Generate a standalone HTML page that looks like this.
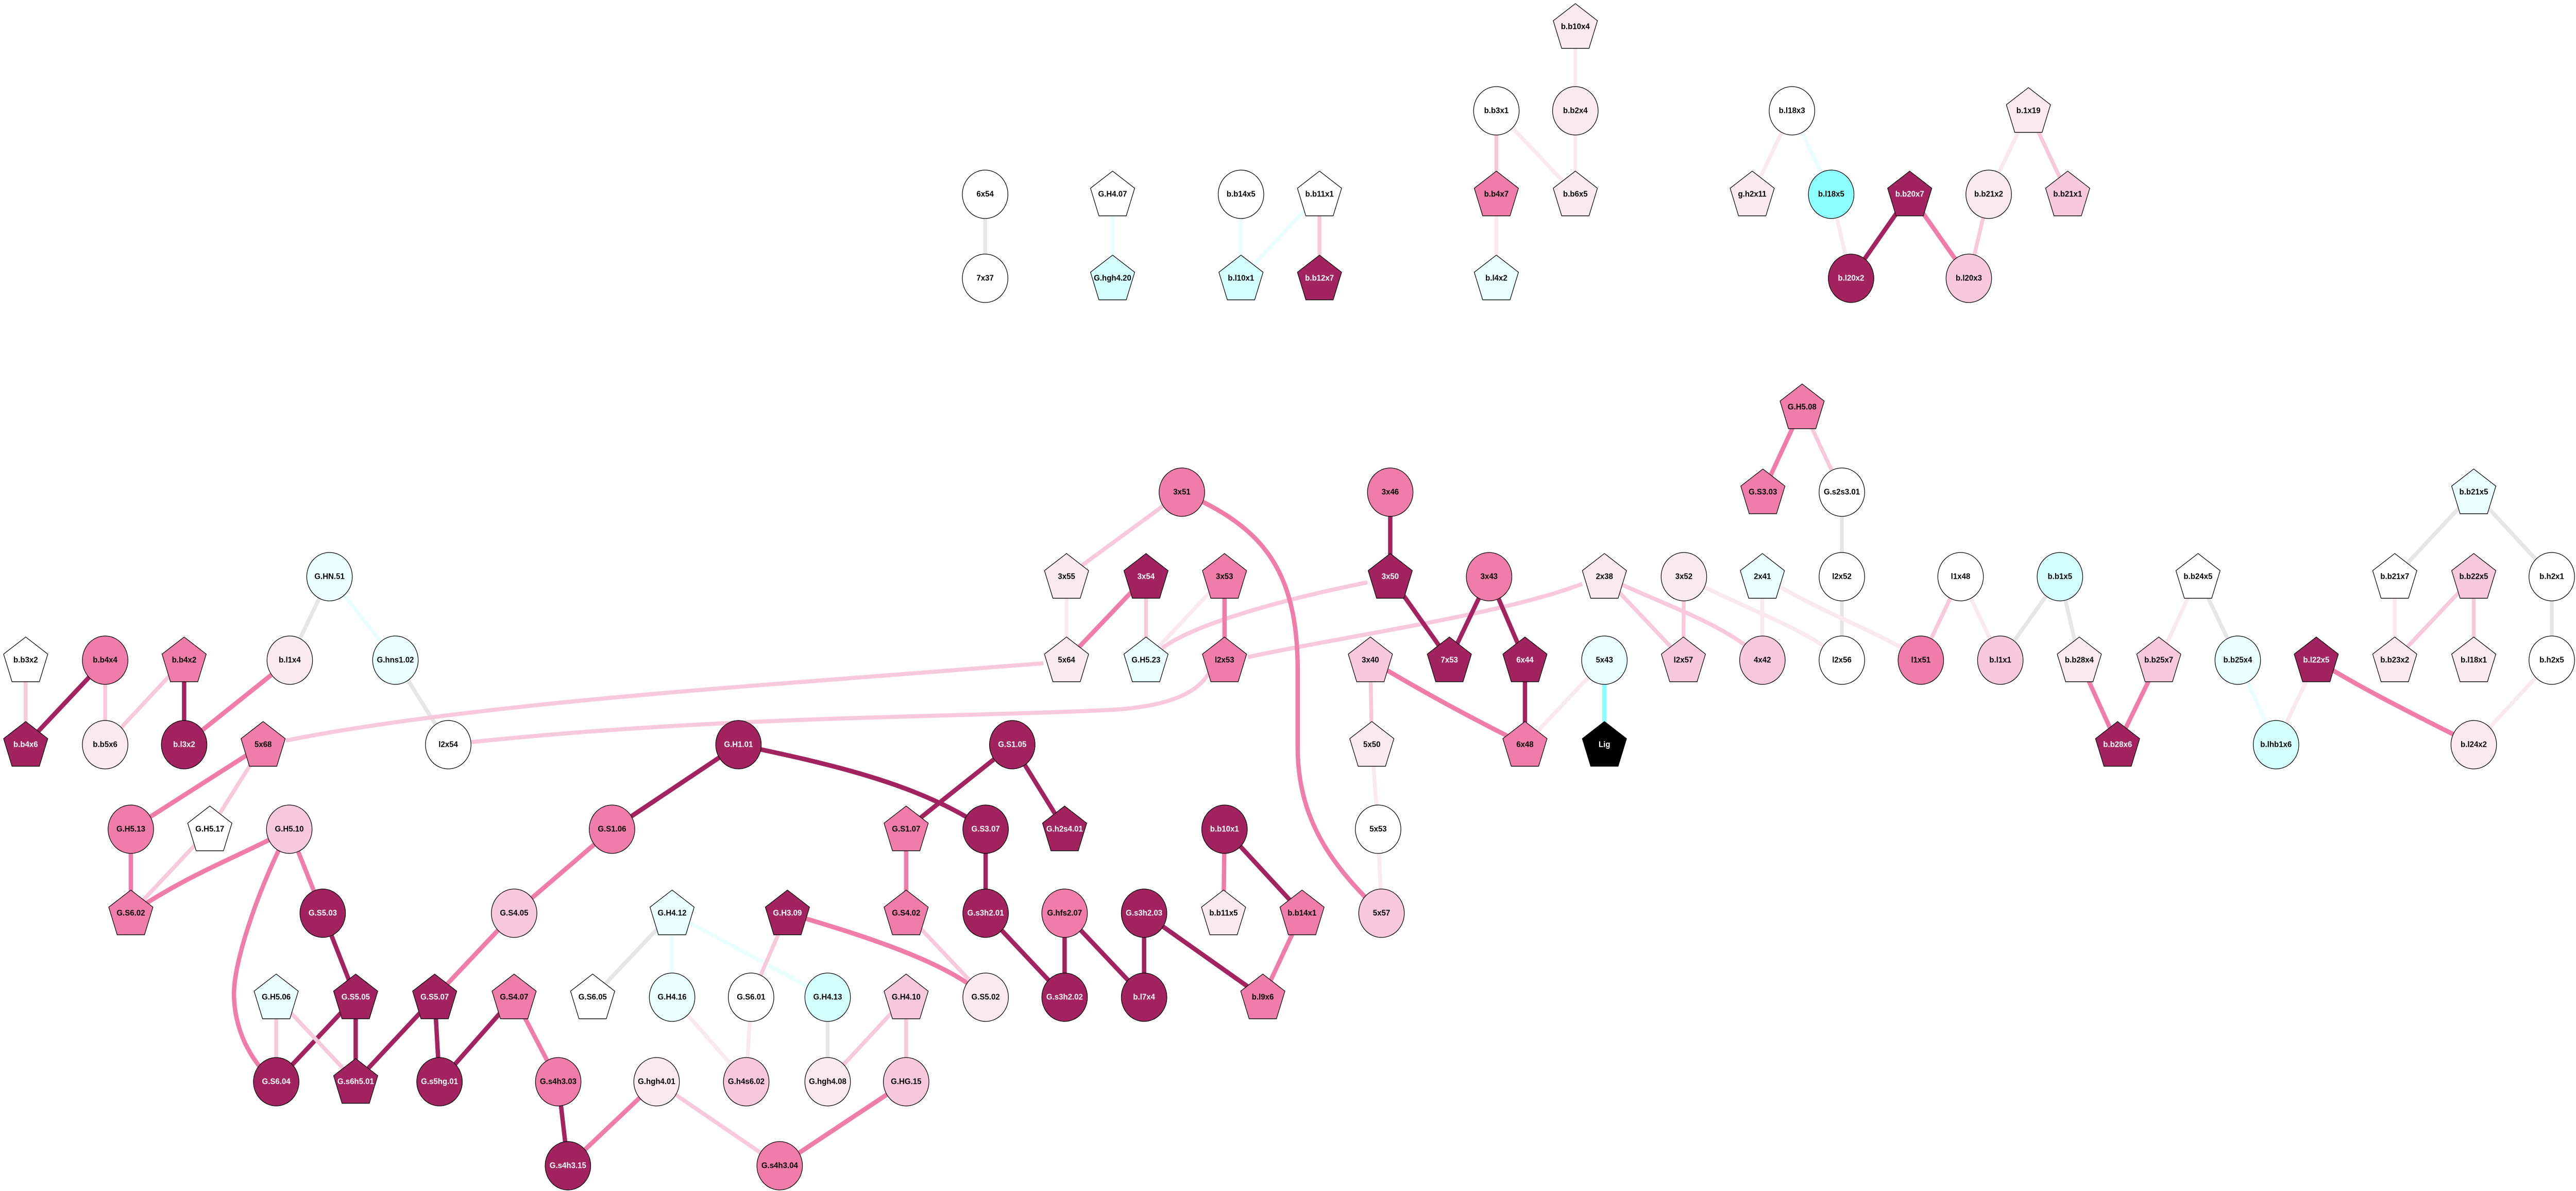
<!DOCTYPE html>
<html><head><meta charset="utf-8"><style>
html,body{margin:0;padding:0;background:#fff;width:100%;height:100%;overflow:hidden}
svg{display:block;position:fixed;left:0;top:0;width:100vw;height:100vh}
.e{fill:none;stroke-linecap:butt}
.gr{stroke:#e6e6e6;stroke-width:8}
.lc{stroke:#eaffff;stroke-width:8}
.cy{stroke:#8cffff;stroke-width:9}
.lp{stroke:#fbe9f0;stroke-width:8}
.p2{stroke:#f8c8dc;stroke-width:8}
.mm{stroke:#f07ca9;stroke-width:9}
.dd{stroke:#a2235f;stroke-width:9}
.n{stroke:#000;stroke-width:1.3}
.fw{fill:#fff}.flc{fill:#eaffff}.fc{fill:#d4ffff}.fcc{fill:#8cffff}.flp{fill:#fbe9f0}.fp2{fill:#f8c8dc}.fm{fill:#f07ca9}.fd{fill:#a2235f}.fk{fill:#000}
text{font-family:"Liberation Sans",Arial,sans-serif;font-weight:bold;font-size:16px;text-anchor:middle;dominant-baseline:central;fill:#000}
text.w{fill:#fff}
</style></head><body>
<svg viewBox="0 0 5316 2311" preserveAspectRatio="none" xmlns="http://www.w3.org/2000/svg">
<defs><polygon id="P" points="0,-48 45.6,-14.8 28.2,38.8 -28.2,38.8 -45.6,-14.8"/></defs>
<g class="e">
<line class="gr" x1="2033" y1="377" x2="2033" y2="540"/>
<line class="lc" x1="2296" y1="377" x2="2296" y2="540"/>
<line class="lc" x1="2561" y1="377" x2="2561" y2="540"/>
<line class="lc" x1="2723" y1="377" x2="2561" y2="540"/>
<line class="p2" x1="2723" y1="377" x2="2723" y2="540"/>
<line class="lp" x1="3251" y1="52" x2="3251" y2="215"/>
<line class="p2" x1="3088" y1="215" x2="3088" y2="377"/>
<line class="lp" x1="3088" y1="215" x2="3251" y2="377"/>
<line class="lp" x1="3251" y1="215" x2="3251" y2="377"/>
<line class="lp" x1="3088" y1="377" x2="3088" y2="540"/>
<line class="lp" x1="3698" y1="215" x2="3616" y2="377"/>
<line class="lc" x1="3698" y1="215" x2="3779" y2="377"/>
<line class="lp" x1="3779" y1="377" x2="3820" y2="540"/>
<line class="dd" x1="3941" y1="377" x2="3820" y2="540"/>
<line class="mm" x1="3941" y1="377" x2="4063" y2="540"/>
<line class="p2" x1="4104" y1="377" x2="4063" y2="540"/>
<line class="lp" x1="4186" y1="215" x2="4104" y2="377"/>
<line class="p2" x1="4186" y1="215" x2="4267" y2="377"/>
<line class="p2" x1="53" y1="1281" x2="53" y2="1445"/>
<line class="dd" x1="217" y1="1281" x2="53" y2="1445"/>
<line class="p2" x1="217" y1="1281" x2="217" y2="1445"/>
<line class="p2" x1="380" y1="1281" x2="217" y2="1445"/>
<line class="dd" x1="380" y1="1281" x2="380" y2="1445"/>
<line class="mm" x1="598" y1="1281" x2="380" y2="1445"/>
<line class="gr" x1="680" y1="1119" x2="598" y2="1281"/>
<line class="lc" x1="680" y1="1119" x2="816" y2="1281"/>
<line class="gr" x1="816" y1="1281" x2="925" y2="1445"/>
<path class="p2" d="M972,1440 C1500,1388 2000,1392 2300,1377 Q2460,1367 2495,1305"/>
<path class="p2" d="M590,1437 C900,1378 1400,1342 1561,1330 L2153,1287"/>
<path class="p2" d="M2822,1130 C2600,1172 2450,1220 2398,1258"/>
<path class="p2" d="M2575,1275 C2800,1230 3100,1192 3265,1133"/>
<line class="mm" x1="543" y1="1445" x2="270" y2="1609"/>
<line class="p2" x1="543" y1="1445" x2="433" y2="1609"/>
<line class="mm" x1="270" y1="1609" x2="270" y2="1772"/>
<line class="p2" x1="433" y1="1609" x2="270" y2="1772"/>
<path class="mm" d="M597,1609 C500,1660 400,1690 270,1772"/>
<path class="mm" d="M575,1650 C520,1760 480,1880 483,1935 C485,2010 530,2075 570,2099"/>
<line class="mm" x1="597" y1="1609" x2="666" y2="1772"/>
<line class="dd" x1="666" y1="1772" x2="734" y2="1935"/>
<line class="dd" x1="734" y1="1935" x2="570" y2="2099"/>
<line class="dd" x1="734" y1="1935" x2="734" y2="2099"/>
<line class="p2" x1="570" y1="1935" x2="570" y2="2099"/>
<line class="p2" x1="570" y1="1935" x2="734" y2="2099"/>
<line class="dd" x1="897" y1="1935" x2="734" y2="2099"/>
<line class="dd" x1="897" y1="1935" x2="907" y2="2099"/>
<line class="mm" x1="1061" y1="1772" x2="897" y2="1935"/>
<line class="mm" x1="1263" y1="1609" x2="1061" y2="1772"/>
<line class="dd" x1="1524" y1="1445" x2="1263" y2="1609"/>
<path class="dd" d="M1524,1445 C1700,1480 1900,1520 2034,1609"/>
<line class="dd" x1="1061" y1="1935" x2="907" y2="2099"/>
<line class="mm" x1="1061" y1="1935" x2="1152" y2="2099"/>
<line class="dd" x1="1152" y1="2099" x2="1172" y2="2262"/>
<line class="mm" x1="1355" y1="2099" x2="1172" y2="2262"/>
<line class="p2" x1="1355" y1="2099" x2="1609" y2="2262"/>
<line class="gr" x1="1387" y1="1772" x2="1223" y2="1935"/>
<line class="lc" x1="1387" y1="1772" x2="1387" y2="1935"/>
<line class="lc" x1="1387" y1="1772" x2="1708" y2="1935"/>
<line class="lp" x1="1387" y1="1935" x2="1540" y2="2099"/>
<line class="lp" x1="1550" y1="1935" x2="1540" y2="2099"/>
<line class="p2" x1="1625" y1="1772" x2="1550" y2="1935"/>
<path class="mm" d="M1625,1772 C1800,1820 1960,1870 2034,1935"/>
<line class="p2" x1="1870" y1="1772" x2="2034" y2="1935"/>
<line class="mm" x1="1870" y1="1609" x2="1870" y2="1772"/>
<line class="dd" x1="2089" y1="1445" x2="1870" y2="1609"/>
<line class="dd" x1="2089" y1="1445" x2="2197" y2="1609"/>
<line class="dd" x1="2034" y1="1609" x2="2034" y2="1772"/>
<line class="dd" x1="2034" y1="1772" x2="2197" y2="1935"/>
<line class="dd" x1="2197" y1="1772" x2="2197" y2="1935"/>
<line class="dd" x1="2197" y1="1772" x2="2361" y2="1935"/>
<line class="dd" x1="2361" y1="1772" x2="2361" y2="1935"/>
<line class="dd" x1="2361" y1="1772" x2="2606" y2="1935"/>
<line class="mm" x1="2527" y1="1609" x2="2525" y2="1772"/>
<line class="dd" x1="2527" y1="1609" x2="2687" y2="1772"/>
<line class="mm" x1="2687" y1="1772" x2="2606" y2="1935"/>
<line class="gr" x1="1708" y1="1935" x2="1708" y2="2099"/>
<line class="p2" x1="1870" y1="1935" x2="1708" y2="2099"/>
<line class="p2" x1="1870" y1="1935" x2="1870" y2="2099"/>
<line class="mm" x1="1870" y1="2099" x2="1609" y2="2262"/>
<line class="p2" x1="2439" y1="955" x2="2201" y2="1119"/>
<path class="mm" d="M2439,955 C2600,1020 2678,1100 2678,1300 L2678,1450 C2678,1600 2760,1690 2851,1772"/>
<line class="lp" x1="2201" y1="1119" x2="2201" y2="1281"/>
<line class="mm" x1="2365" y1="1119" x2="2201" y2="1281"/>
<line class="p2" x1="2365" y1="1119" x2="2365" y2="1281"/>
<line class="lp" x1="2527" y1="1119" x2="2365" y2="1281"/>
<line class="mm" x1="2527" y1="1119" x2="2527" y2="1281"/>
<line class="dd" x1="2869" y1="955" x2="2869" y2="1119"/>
<line class="dd" x1="2869" y1="1119" x2="2991" y2="1281"/>
<line class="dd" x1="3073" y1="1119" x2="2991" y2="1281"/>
<line class="dd" x1="3073" y1="1119" x2="3147" y2="1281"/>
<line class="dd" x1="3147" y1="1281" x2="3147" y2="1445"/>
<line class="p2" x1="2828" y1="1281" x2="2831" y2="1445"/>
<path class="mm" d="M2828,1281 C2930,1340 3050,1400 3147,1445"/>
<line class="lp" x1="2831" y1="1445" x2="2844" y2="1609"/>
<line class="lp" x1="2844" y1="1609" x2="2851" y2="1772"/>
<line class="lp" x1="3311" y1="1281" x2="3147" y2="1445"/>
<line class="cy" x1="3311" y1="1281" x2="3311" y2="1445"/>
<line class="mm" x1="3719" y1="790" x2="3638" y2="955"/>
<line class="p2" x1="3719" y1="790" x2="3801" y2="955"/>
<line class="gr" x1="3801" y1="955" x2="3801" y2="1119"/>
<line class="gr" x1="3801" y1="1119" x2="3801" y2="1281"/>
<line class="p2" x1="3311" y1="1119" x2="3474" y2="1281"/>
<path class="p2" d="M3311,1119 C3450,1180 3570,1215 3637,1281"/>
<line class="p2" x1="3475" y1="1119" x2="3474" y2="1281"/>
<path class="lp" d="M3475,1119 C3620,1190 3730,1220 3801,1281"/>
<line class="lp" x1="3637" y1="1119" x2="3637" y2="1281"/>
<path class="lp" d="M3637,1119 C3780,1200 3880,1225 3964,1281"/>
<line class="p2" x1="4046" y1="1119" x2="3964" y2="1281"/>
<line class="lp" x1="4046" y1="1119" x2="4128" y2="1281"/>
<line class="gr" x1="4251" y1="1119" x2="4128" y2="1281"/>
<line class="gr" x1="4251" y1="1119" x2="4291" y2="1281"/>
<line class="mm" x1="4291" y1="1281" x2="4370" y2="1445"/>
<line class="mm" x1="4455" y1="1281" x2="4370" y2="1445"/>
<line class="lp" x1="4536" y1="1119" x2="4455" y2="1281"/>
<line class="gr" x1="4536" y1="1119" x2="4618" y2="1281"/>
<line class="lc" x1="4618" y1="1281" x2="4697" y2="1445"/>
<line class="lp" x1="4780" y1="1281" x2="4697" y2="1445"/>
<path class="mm" d="M4780,1281 C4880,1340 4990,1390 5105,1445"/>
<line class="lp" x1="5266" y1="1281" x2="5105" y2="1445"/>
<line class="gr" x1="5266" y1="1119" x2="5266" y2="1281"/>
<line class="gr" x1="5105" y1="955" x2="4942" y2="1119"/>
<line class="gr" x1="5105" y1="955" x2="5266" y2="1119"/>
<line class="lp" x1="4942" y1="1119" x2="4942" y2="1281"/>
<line class="p2" x1="5105" y1="1119" x2="4942" y2="1281"/>
<line class="p2" x1="5105" y1="1119" x2="5105" y2="1281"/>
</g>
<g class="n">
<circle class="fw" cx="2033" cy="377" r="47"/><circle class="fw" cx="2033" cy="540" r="47"/>
<use href="#P" class="fw" x="2296" y="380"/><use href="#P" class="fc" x="2296" y="543"/>
<circle class="fw" cx="2561" cy="377" r="47"/><use href="#P" class="fc" x="2561" y="543"/>
<use href="#P" class="fw" x="2723" y="380"/><use href="#P" class="fd" x="2723" y="543"/>
<use href="#P" class="flp" x="3251" y="55"/>
<circle class="fw" cx="3088" cy="215" r="47"/><circle class="flp" cx="3251" cy="215" r="47"/>
<use href="#P" class="fm" x="3088" y="380"/><use href="#P" class="flp" x="3251" y="380"/><use href="#P" class="flc" x="3088" y="543"/>
<circle class="fw" cx="3698" cy="215" r="47"/><use href="#P" class="flp" x="3616" y="380"/>
<circle class="fcc" cx="3779" cy="377" r="47"/><use href="#P" class="fd" x="3941" y="380"/>
<circle class="flp" cx="4104" cy="377" r="47"/><use href="#P" class="fp2" x="4267" y="380"/>
<use href="#P" class="flp" x="4186" y="218"/>
<circle class="fd" cx="3820" cy="540" r="47"/><circle class="fp2" cx="4063" cy="540" r="47"/>
<use href="#P" class="fw" x="53" y="1284"/><circle class="fm" cx="217" cy="1281" r="47"/><use href="#P" class="fm" x="380" y="1284"/>
<circle class="flp" cx="598" cy="1281" r="47"/><circle class="flc" cx="680" cy="1119" r="47"/><circle class="flc" cx="816" cy="1281" r="47"/>
<use href="#P" class="fd" x="53" y="1448"/><circle class="flp" cx="217" cy="1445" r="47"/><circle class="fd" cx="380" cy="1445" r="47"/>
<use href="#P" class="fm" x="543" y="1448"/><circle class="fw" cx="925" cy="1445" r="47"/><circle class="fd" cx="1524" cy="1445" r="47"/>
<circle class="fm" cx="270" cy="1609" r="47"/><use href="#P" class="fw" x="433" y="1612"/><circle class="fp2" cx="597" cy="1609" r="47"/>
<circle class="fm" cx="1263" cy="1609" r="47"/>
<use href="#P" class="fm" x="270" y="1775"/><circle class="fd" cx="666" cy="1772" r="47"/><circle class="fp2" cx="1061" cy="1772" r="47"/>
<use href="#P" class="flc" x="1387" y="1775"/>
<use href="#P" class="flc" x="570" y="1938"/><use href="#P" class="fd" x="734" y="1938"/><use href="#P" class="fd" x="897" y="1938"/>
<use href="#P" class="fm" x="1061" y="1938"/><use href="#P" class="fw" x="1223" y="1938"/><circle class="flc" cx="1387" cy="1935" r="47"/>
<circle class="fw" cx="1550" cy="1935" r="47"/>
<circle class="fd" cx="570" cy="2099" r="47"/><use href="#P" class="fd" x="734" y="2102"/><circle class="fd" cx="907" cy="2099" r="47"/>
<circle class="fm" cx="1152" cy="2099" r="47"/><circle class="flp" cx="1355" cy="2099" r="47"/><circle class="fp2" cx="1540" cy="2099" r="47"/>
<circle class="fd" cx="1172" cy="2262" r="47"/>
<circle class="fm" cx="2439" cy="955" r="47"/><circle class="fm" cx="2869" cy="955" r="47"/>
<use href="#P" class="flp" x="2201" y="1122"/><use href="#P" class="fd" x="2365" y="1122"/><use href="#P" class="fm" x="2527" y="1122"/>
<use href="#P" class="fd" x="2869" y="1122"/><circle class="fm" cx="3073" cy="1119" r="47"/>
<use href="#P" class="flp" x="2201" y="1284"/><use href="#P" class="flc" x="2365" y="1284"/><use href="#P" class="fm" x="2527" y="1284"/>
<use href="#P" class="fp2" x="2828" y="1284"/><use href="#P" class="fd" x="2991" y="1284"/><use href="#P" class="fd" x="3147" y="1284"/>
<circle class="fd" cx="2089" cy="1445" r="47"/><use href="#P" class="flp" x="2831" y="1448"/><use href="#P" class="fm" x="3147" y="1448"/>
<use href="#P" class="fm" x="1870" y="1612"/><circle class="fd" cx="2034" cy="1609" r="47"/><use href="#P" class="fd" x="2197" y="1612"/>
<circle class="fd" cx="2527" cy="1609" r="47"/><circle class="fw" cx="2844" cy="1609" r="47"/>
<use href="#P" class="fd" x="1625" y="1775"/><use href="#P" class="fm" x="1870" y="1775"/><circle class="fd" cx="2034" cy="1772" r="47"/>
<circle class="fm" cx="2197" cy="1772" r="47"/><circle class="fd" cx="2361" cy="1772" r="47"/><use href="#P" class="flp" x="2525" y="1775"/>
<use href="#P" class="fm" x="2687" y="1775"/><circle class="fp2" cx="2851" cy="1772" r="47"/>
<circle class="fc" cx="1708" cy="1935" r="47"/><use href="#P" class="fp2" x="1870" y="1938"/><circle class="flp" cx="2034" cy="1935" r="47"/>
<circle class="fd" cx="2197" cy="1935" r="47"/><circle class="fd" cx="2361" cy="1935" r="47"/><use href="#P" class="fm" x="2606" y="1938"/>
<circle class="flp" cx="1708" cy="2099" r="47"/><circle class="fp2" cx="1870" cy="2099" r="47"/><circle class="fm" cx="1609" cy="2262" r="47"/>
<use href="#P" class="fm" x="3719" y="793"/><use href="#P" class="fm" x="3638" y="958"/><circle class="fw" cx="3801" cy="955" r="47"/>
<use href="#P" class="flp" x="3311" y="1122"/><circle class="flp" cx="3475" cy="1119" r="47"/><use href="#P" class="flc" x="3637" y="1122"/>
<circle class="fw" cx="3801" cy="1119" r="47"/><circle class="fw" cx="4046" cy="1119" r="47"/><circle class="fc" cx="4251" cy="1119" r="47"/>
<use href="#P" class="fw" x="4536" y="1122"/>
<circle class="flc" cx="3311" cy="1281" r="47"/><use href="#P" class="fp2" x="3474" y="1284"/><circle class="fp2" cx="3637" cy="1281" r="47"/>
<circle class="fw" cx="3801" cy="1281" r="47"/><circle class="fm" cx="3964" cy="1281" r="47"/><circle class="fp2" cx="4128" cy="1281" r="47"/>
<use href="#P" class="flp" x="4291" y="1284"/><use href="#P" class="fp2" x="4455" y="1284"/><circle class="flc" cx="4618" cy="1281" r="47"/>
<use href="#P" class="fk" x="3311" y="1448"/><use href="#P" class="fd" x="4370" y="1448"/><circle class="fc" cx="4697" cy="1445" r="47"/>
<use href="#P" class="fd" x="4780" y="1284"/>
<use href="#P" class="flc" x="5105" y="958"/><use href="#P" class="fw" x="4942" y="1122"/><use href="#P" class="fp2" x="5105" y="1122"/>
<circle class="fw" cx="5266" cy="1119" r="47"/><use href="#P" class="flp" x="4942" y="1284"/><use href="#P" class="flp" x="5105" y="1284"/>
<circle class="fw" cx="5266" cy="1281" r="47"/><circle class="flp" cx="5105" cy="1445" r="47"/>
</g>
<g>
<text x="2033" y="377">6x54</text><text x="2033" y="540">7x37</text>
<text x="2296" y="377">G.H4.07</text><text x="2296" y="540">G.hgh4.20</text>
<text x="2561" y="377">b.b14x5</text><text x="2561" y="540">b.l10x1</text>
<text x="2723" y="377">b.b11x1</text><text class="w" x="2723" y="540">b.b12x7</text>
<text x="3251" y="52">b.b10x4</text><text x="3088" y="215">b.b3x1</text><text x="3251" y="215">b.b2x4</text>
<text x="3088" y="377">b.b4x7</text><text x="3251" y="377">b.b6x5</text><text x="3088" y="540">b.l4x2</text>
<text x="3698" y="215">b.l18x3</text><text x="3616" y="377">g.h2x11</text><text x="3779" y="377">b.l18x5</text>
<text class="w" x="3941" y="377">b.b20x7</text><text x="4104" y="377">b.b21x2</text><text x="4267" y="377">b.b21x1</text>
<text x="4186" y="215">b.1x19</text><text class="w" x="3820" y="540">b.l20x2</text><text x="4063" y="540">b.l20x3</text>
<text x="53" y="1281">b.b3x2</text><text x="217" y="1281">b.b4x4</text><text x="380" y="1281">b.b4x2</text>
<text x="598" y="1281">b.l1x4</text><text x="680" y="1119">G.HN.51</text><text x="816" y="1281">G.hns1.02</text>
<text class="w" x="53" y="1445">b.b4x6</text><text x="217" y="1445">b.b5x6</text><text class="w" x="380" y="1445">b.l3x2</text>
<text x="543" y="1445">5x68</text><text x="925" y="1445">l2x54</text><text class="w" x="1524" y="1445">G.H1.01</text>
<text x="270" y="1609">G.H5.13</text><text x="433" y="1609">G.H5.17</text><text x="597" y="1609">G.H5.10</text>
<text x="1263" y="1609">G.S1.06</text>
<text x="270" y="1772">G.S6.02</text><text class="w" x="666" y="1772">G.S5.03</text><text x="1061" y="1772">G.S4.05</text>
<text x="1387" y="1772">G.H4.12</text>
<text x="570" y="1935">G.H5.06</text><text class="w" x="734" y="1935">G.S5.05</text><text class="w" x="897" y="1935">G.S5.07</text>
<text x="1061" y="1935">G.S4.07</text><text x="1223" y="1935">G.S6.05</text><text x="1387" y="1935">G.H4.16</text>
<text x="1550" y="1935">G.S6.01</text>
<text class="w" x="570" y="2099">G.S6.04</text><text class="w" x="734" y="2099">G.s6h5.01</text><text class="w" x="907" y="2099">G.s5hg.01</text>
<text x="1152" y="2099">G.s4h3.03</text><text x="1355" y="2099">G.hgh4.01</text><text x="1540" y="2099">G.h4s6.02</text>
<text class="w" x="1172" y="2262">G.s4h3.15</text>
<text x="2439" y="955">3x51</text><text x="2869" y="955">3x46</text>
<text x="2201" y="1119">3x55</text><text class="w" x="2365" y="1119">3x54</text><text x="2527" y="1119">3x53</text>
<text class="w" x="2869" y="1119">3x50</text><text x="3073" y="1119">3x43</text>
<text x="2201" y="1281">5x64</text><text x="2365" y="1281">G.H5.23</text><text x="2527" y="1281">l2x53</text>
<text x="2828" y="1281">3x40</text><text class="w" x="2991" y="1281">7x53</text><text class="w" x="3147" y="1281">6x44</text>
<text class="w" x="2089" y="1445">G.S1.05</text><text x="2831" y="1445">5x50</text><text x="3147" y="1445">6x48</text>
<text x="1870" y="1609">G.S1.07</text><text class="w" x="2034" y="1609">G.S3.07</text><text class="w" x="2197" y="1609">G.h2s4.01</text>
<text class="w" x="2527" y="1609">b.b10x1</text><text x="2844" y="1609">5x53</text>
<text class="w" x="1625" y="1772">G.H3.09</text><text x="1870" y="1772">G.S4.02</text><text class="w" x="2034" y="1772">G.s3h2.01</text>
<text x="2197" y="1772">G.hfs2.07</text><text class="w" x="2361" y="1772">G.s3h2.03</text><text x="2525" y="1772">b.b11x5</text>
<text x="2687" y="1772">b.b14x1</text><text x="2851" y="1772">5x57</text>
<text x="1708" y="1935">G.H4.13</text><text x="1870" y="1935">G.H4.10</text><text x="2034" y="1935">G.S5.02</text>
<text class="w" x="2197" y="1935">G.s3h2.02</text><text class="w" x="2361" y="1935">b.l7x4</text><text x="2606" y="1935">b.l9x6</text>
<text x="1708" y="2099">G.hgh4.08</text><text x="1870" y="2099">G.HG.15</text><text x="1609" y="2262">G.s4h3.04</text>
<text x="3719" y="790">G.H5.08</text><text x="3638" y="955">G.S3.03</text><text x="3801" y="955">G.s2s3.01</text>
<text x="3311" y="1119">2x38</text><text x="3475" y="1119">3x52</text><text x="3637" y="1119">2x41</text>
<text x="3801" y="1119">l2x52</text><text x="4046" y="1119">l1x48</text><text x="4251" y="1119">b.b1x5</text><text x="4536" y="1119">b.b24x5</text>
<text x="3311" y="1281">5x43</text><text x="3474" y="1281">l2x57</text><text x="3637" y="1281">4x42</text>
<text x="3801" y="1281">l2x56</text><text x="3964" y="1281">l1x51</text><text x="4128" y="1281">b.l1x1</text>
<text x="4291" y="1281">b.b28x4</text><text x="4455" y="1281">b.b25x7</text><text x="4618" y="1281">b.b25x4</text>
<text class="w" x="3311" y="1445">Lig</text><text class="w" x="4370" y="1445">b.b28x6</text><text x="4697" y="1445">b.lhb1x6</text>
<text class="w" x="4780" y="1281">b.l22x5</text>
<text x="5105" y="955">b.b21x5</text><text x="4942" y="1119">b.b21x7</text><text x="5105" y="1119">b.b22x5</text>
<text x="5266" y="1119">b.h2x1</text><text x="4942" y="1281">b.b23x2</text><text x="5105" y="1281">b.l18x1</text>
<text x="5266" y="1281">b.h2x5</text><text x="5105" y="1445">b.l24x2</text>
</g>
</svg>
</body></html>
